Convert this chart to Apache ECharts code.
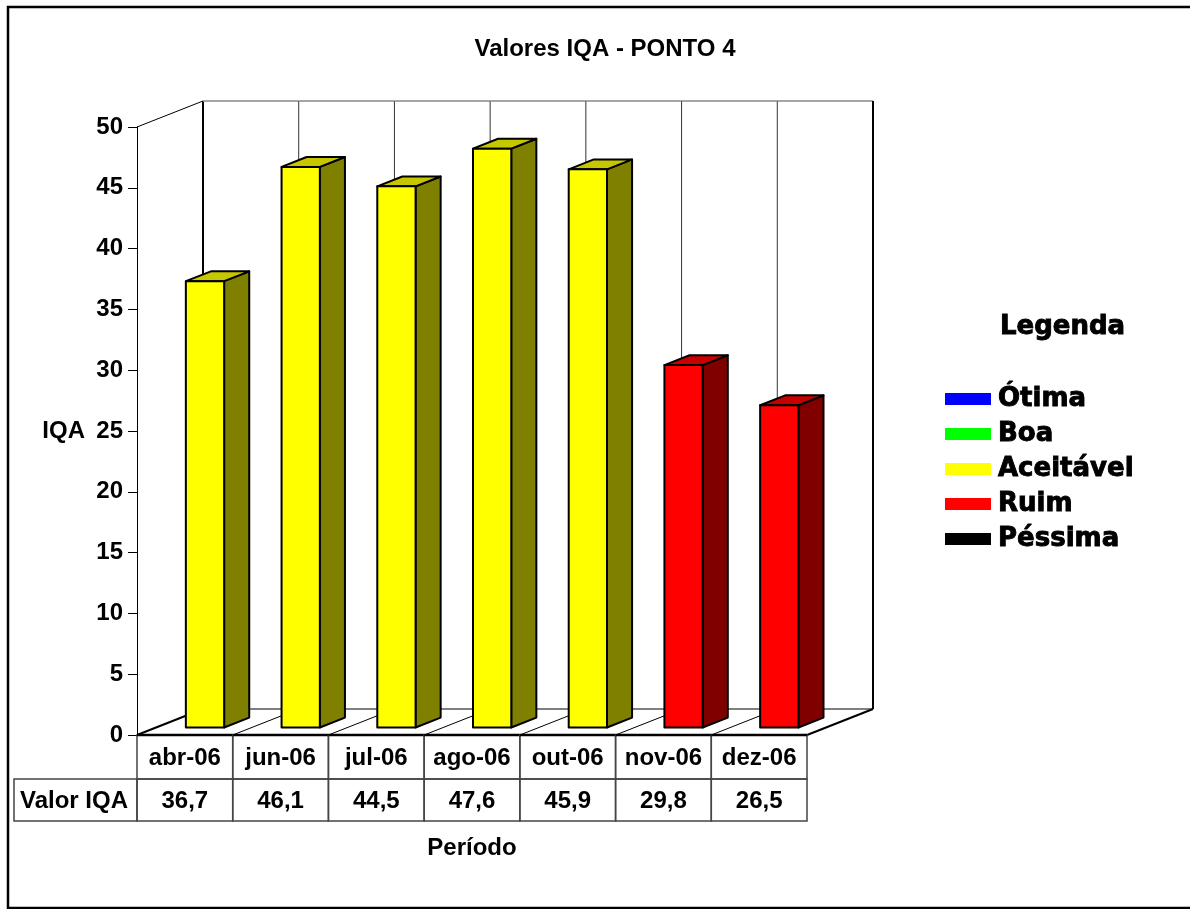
<!DOCTYPE html>
<html>
<head>
<meta charset="utf-8">
<script src="https://cdn.jsdelivr.net/npm/echarts@6/dist/echarts.min.js"></script>
<style>
  html, body { margin: 0; padding: 0; background: #ffffff; }
  #chart { width: 1190px; height: 909px; }
</style>
</head>
<body>
<div id="chart"></div>
<script>
// Sampling periods and their IQA values
const categories = ['abr-06', 'jun-06', 'jul-06', 'ago-06', 'out-06', 'nov-06', 'dez-06'];
const iqaValues = [36.7, 46.1, 44.5, 47.6, 45.9, 29.8, 26.5];

// Value axis range
const yMin = 0;
const yMax = 50;
const yStep = 5;

// Quality classes (lower bound of each class) and colours
const classNames = ['Ótima', 'Boa', 'Aceitável', 'Ruim', 'Péssima'];
const classLowerBounds = [79, 51, 36, 19, 0];
const classColors = ['#0000FF', '#00FF00', '#FFFF00', '#FF0000', '#000000'];

// 3D projection of the plot box (pixels)
const DX = 66, DY = -26;
const BAR_FRONT = 0.29, BAR_DEPTH = 0.38, BAR_WIDTH = 0.4;
const ROW1 = 44, ROW2 = 42, TABLE_LEFT = 14;
const FONT = 'Liberation Sans, Arial, sans-serif';
const HEAVY = 'bold 26px DejaVu Sans, sans-serif';

function classIndex(v) {
  for (let k = 0; k < classLowerBounds.length; k++) {
    if (v >= classLowerBounds[k]) return k;
  }
  return classLowerBounds.length - 1;
}
function shade(hex, f) {
  const n = parseInt(hex.slice(1), 16);
  const r = Math.round(((n >> 16) & 255) * f);
  const g = Math.round(((n >> 8) & 255) * f);
  const b = Math.round((n & 255) * f);
  return 'rgb(' + r + ',' + g + ',' + b + ')';
}
function fmt(v) { return v.toFixed(1).replace('.', ','); }

const chart = echarts.init(document.getElementById('chart'), null, { renderer: 'canvas' });

// Walls, floor and data table, one column per category
function renderFrame(params, api) {
  const i = api.value(0);
  const last = categories.length - 1;
  const band = api.size([1, 0])[0];
  const c = api.coord([i, yMin]);
  const top = api.coord([i, yMax])[1];
  const xl = c[0] - band / 2, xr = c[0] + band / 2, y0 = c[1];
  const ch = [];
  const line = (x1, y1, x2, y2, w, col) => ch.push({
    type: 'line', shape: { x1, y1, x2, y2 },
    style: { stroke: col || '#000', lineWidth: w || 1 }
  });
  // back wall
  line(xl + DX, top + DY, xl + DX, y0 + DY, i === 0 ? 2 : 1, i === 0 ? '#000' : '#333');
  line(xl + DX, top + DY, xr + DX, top + DY, 1.5, '#888');
  // floor
  line(xl, y0, xl + DX, y0 + DY, i === 0 ? 2 : 1);
  line(xl + DX, y0 + DY, xr + DX, y0 + DY, 1);
  if (i === 0) {
    line(xl, top, xl + DX, top + DY, 1);
  }
  if (i === last) {
    line(xr + DX, top + DY, xr + DX, y0 + DY, 2);
    line(xr, y0, xr + DX, y0 + DY, 2);
  }
  // data table
  ch.push({ type: 'rect', shape: { x: xl, y: y0, width: band, height: ROW1 },
    style: { fill: 'none', stroke: '#444', lineWidth: 1.5 } });
  ch.push({ type: 'rect', shape: { x: xl, y: y0 + ROW1, width: band, height: ROW2 },
    style: { fill: 'none', stroke: '#444', lineWidth: 1.5 } });
  ch.push({ type: 'text', style: {
    text: fmt(iqaValues[i]), x: c[0], y: y0 + ROW1 + ROW2 / 2 + 1,
    align: 'center', verticalAlign: 'middle',
    font: 'bold 24px ' + FONT, fill: '#000' } });
  if (i === 0) {
    ch.push({ type: 'rect', shape: { x: TABLE_LEFT, y: y0 + ROW1, width: xl - TABLE_LEFT, height: ROW2 },
      style: { fill: 'none', stroke: '#444', lineWidth: 1.5 } });
    ch.push({ type: 'text', style: {
      text: 'Valor IQA', x: TABLE_LEFT + 6, y: y0 + ROW1 + ROW2 / 2 + 1,
      align: 'left', verticalAlign: 'middle',
      font: 'bold 24px ' + FONT, fill: '#000' } });
  }
  line(xl, y0, xr, y0, 2.5);
  return { type: 'group', children: ch };
}

// 3D bars: front, top and side faces
function renderBar(params, api) {
  const i = api.value(0), v = api.value(1);
  const band = api.size([1, 0])[0];
  const base = api.coord([i, yMin]);
  const tip = api.coord([i, v]);
  const w = band * BAR_WIDTH;
  const ox = DX * BAR_FRONT, oy = DY * BAR_FRONT;
  const dx = DX * BAR_DEPTH, dy = DY * BAR_DEPTH;
  const xl = base[0] - w / 2 + ox + 1, xr = xl + w;
  const yt = tip[1] + oy, yb = base[1] + oy;
  const col = classColors[classIndex(v)];
  const edge = { stroke: '#000', lineWidth: 2, lineJoin: 'round' };
  return {
    type: 'group',
    children: [
      { type: 'polygon', shape: { points: [[xr, yt], [xr + dx, yt + dy], [xr + dx, yb + dy], [xr, yb]] },
        style: Object.assign({ fill: shade(col, 0.5) }, edge) },
      { type: 'polygon', shape: { points: [[xl, yt], [xl + dx, yt + dy], [xr + dx, yt + dy], [xr, yt]] },
        style: Object.assign({ fill: shade(col, 0.78) }, edge) },
      { type: 'rect', shape: { x: xl, y: yt, width: w, height: yb - yt },
        style: Object.assign({ fill: col }, edge) }
    ]
  };
}

// Legend drawn as a block of swatches and labels
const legendChildren = [{
  type: 'text', x: 1000, y: 327,
  style: { text: 'Legenda', font: HEAVY, fill: '#000', stroke: '#000', lineWidth: 0.9,
    align: 'left', verticalAlign: 'middle' }
}];
classNames.forEach((name, k) => {
  const cy = 399 + k * 35;
  legendChildren.push({ type: 'rect', shape: { x: 945, y: cy - 6, width: 46, height: 12 },
    style: { fill: classColors[k] } });
  legendChildren.push({ type: 'text', x: 998, y: cy,
    style: { text: name, font: HEAVY, fill: '#000', stroke: '#000', lineWidth: 0.9,
      align: 'left', verticalAlign: 'middle' } });
});

chart.setOption({
  animation: false,
  backgroundColor: '#ffffff',
  title: {
    text: 'Valores IQA - PONTO 4',
    left: 600, top: 32, textAlign: 'center',
    textStyle: { fontFamily: FONT, fontWeight: 'bold', fontSize: 24, color: '#000' }
  },
  grid: { left: 137, right: 383, top: 127, bottom: 174 },
  xAxis: {
    type: 'category',
    data: categories,
    boundaryGap: true,
    name: 'Período',
    nameLocation: 'middle',
    nameGap: 101,
    nameTextStyle: { fontFamily: FONT, fontWeight: 'bold', fontSize: 24, color: '#000', verticalAlign: 'top' },
    axisLine: { show: false },
    axisTick: { show: false },
    splitLine: { show: false },
    axisLabel: { interval: 0, margin: 11, fontFamily: FONT, fontWeight: 'bold', fontSize: 24, color: '#000' }
  },
  yAxis: {
    type: 'value',
    min: yMin, max: yMax, interval: yStep,
    name: 'IQA',
    nameLocation: 'middle',
    nameRotate: 0,
    nameGap: 52,
    nameTextStyle: { fontFamily: FONT, fontWeight: 'bold', fontSize: 24, color: '#000' },
    axisLine: { show: true, lineStyle: { color: '#000', width: 1 } },
    axisTick: { show: true, length: 9, lineStyle: { color: '#000', width: 1 } },
    splitLine: { show: false },
    axisLabel: { margin: 14, fontFamily: FONT, fontWeight: 'bold', fontSize: 24, color: '#000' }
  },
  graphic: [
    { type: 'rect', shape: { x: 8, y: 7, width: 1200, height: 901 },
      style: { fill: 'none', stroke: '#000', lineWidth: 2.5 }, z: 100 },
    { type: 'group', children: legendChildren }
  ],
  series: [
    {
      type: 'custom', name: 'frame', z: 1, clip: false, silent: true,
      data: categories.map((c, i) => [i, yMin]),
      encode: { x: 0, y: 1 },
      renderItem: renderFrame
    },
    {
      type: 'custom', name: 'IQA', z: 5, clip: false,
      data: iqaValues.map((v, i) => [i, v]),
      encode: { x: 0, y: 1 },
      renderItem: renderBar
    }
  ]
});
</script>
</body>
</html>
